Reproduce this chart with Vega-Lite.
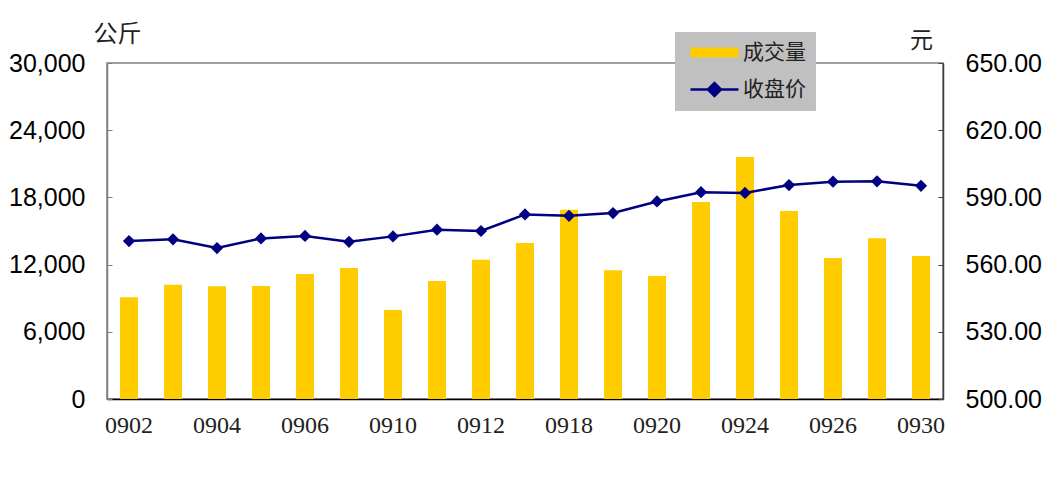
{
  "$schema": "https://vega.github.io/schema/vega-lite/v6.json",
  "width": 836,
  "height": 336,
  "autosize": {"type": "none"},
  "padding": {"left": 107, "top": 63, "right": 105, "bottom": 94},
  "background": "white",
  "config": {
    "view": {"stroke": "#808080", "strokeWidth": 1.5},
    "axis": {"grid": false, "labelFont": "Liberation Sans", "labelFontSize": 25, "labelColor": "black"}
  },
  "data": {
    "values": [
      {"date": "0902", "volume": 9080, "price": 570.5},
      {"date": "0903", "volume": 10210, "price": 571.3},
      {"date": "0904", "volume": 10060, "price": 567.4},
      {"date": "0905", "volume": 10100, "price": 571.7},
      {"date": "0906", "volume": 11160, "price": 572.8},
      {"date": "0909", "volume": 11690, "price": 570.2},
      {"date": "0910", "volume": 7950, "price": 572.6},
      {"date": "0911", "volume": 10540, "price": 575.6},
      {"date": "0912", "volume": 12440, "price": 575.0},
      {"date": "0917", "volume": 13930, "price": 582.4},
      {"date": "0918", "volume": 16900, "price": 581.8},
      {"date": "0919", "volume": 11490, "price": 583.0},
      {"date": "0920", "volume": 10980, "price": 588.2},
      {"date": "0923", "volume": 17590, "price": 592.3},
      {"date": "0924", "volume": 21610, "price": 592.0},
      {"date": "0925", "volume": 16790, "price": 595.5},
      {"date": "0926", "volume": 12590, "price": 597.0},
      {"date": "0927", "volume": 14350, "price": 597.2},
      {"date": "0930", "volume": 12770, "price": 595.2}
    ]
  },
  "encoding": {
    "x": {
      "field": "date",
      "type": "nominal",
      "scale": {"paddingInner": 0, "paddingOuter": 0},
      "axis": {
        "title": null,
        "values": ["0902", "0904", "0906", "0910", "0912", "0918", "0920", "0924", "0926", "0930"],
        "labelAngle": 0,
        "labelFont": "Liberation Serif",
        "labelFontSize": 24,
        "labelPadding": 14,
        "labelColor": "#222222",
        "ticks": false,
        "domainColor": "black",
        "domainWidth": 1.5
      }
    }
  },
  "layer": [
    {
      "mark": {"type": "bar", "size": 18},
      "encoding": {
        "y": {
          "field": "volume",
          "type": "quantitative",
          "scale": {"domain": [0, 30000], "nice": false},
          "axis": {
            "orient": "left",
            "values": [0, 6000, 12000, 18000, 24000, 30000],
            "format": ",d",
            "title": "公斤",
            "titleAngle": 0,
            "titleFont": "Noto Sans CJK SC",
            "titleFontSize": 24,
            "titleFontWeight": "normal",
            "titleColor": "#222222",
            "titleAlign": "center",
            "titleBaseline": "middle",
            "titleX": 10,
            "titleY": -29,
            "domainColor": "#808080",
            "domainWidth": 1.5,
            "tickColor": "#808080",
            "tickSize": -5,
            "labelPadding": 27
          }
        },
        "color": {
          "datum": "成交量",
          "scale": {"domain": ["成交量", "收盘价"], "range": ["#FFCC00", "#000080"]},
          "legend": {
            "title": null,
            "orient": "none",
            "legendX": 568,
            "legendY": -31,
            "fillColor": "#C0C0C0",
            "padding": 10,
            "symbolOffset": 19,
            "symbolSize": 2304,
            "labelFont": "Noto Sans CJK SC",
            "labelFontSize": 21,
            "labelColor": "#222222",
            "labelOffset": 18,
            "rowPadding": 15,
            "encode": {
              "symbols": {
                "update": {
                  "shape": {"signal": "datum.value === '成交量' ? 'M-1,-0.21H1V0.21H-1Z' : 'M-1,0H1M-0.27,0L0,-0.27L0.27,0L0,0.27Z'"},
                  "size": {"value": 2304},
                  "fill": {"signal": "datum.value === '成交量' ? '#FFCC00' : '#000080'"},
                  "stroke": {"value": "#000080"},
                  "strokeWidth": {"signal": "datum.value === '成交量' ? 0 : 2.5"},
                  "opacity": {"value": 1}
                }
              }
            }
          }
        }
      }
    },
    {
      "mark": {"type": "line", "strokeWidth": 2.5, "point": {"shape": "diamond", "size": 150, "filled": true, "color": "#000080", "opacity": 1}},
      "encoding": {
        "y": {
          "field": "price",
          "type": "quantitative",
          "scale": {"domain": [500, 650], "nice": false, "zero": false},
          "axis": {
            "orient": "right",
            "values": [500, 530, 560, 590, 620, 650],
            "format": ".2f",
            "title": "元",
            "titleAngle": 0,
            "titleFont": "Noto Sans CJK SC",
            "titleFontSize": 23,
            "titleFontWeight": "normal",
            "titleColor": "#222222",
            "titleAlign": "center",
            "titleBaseline": "middle",
            "titleX": -22,
            "titleY": -23,
            "domainColor": "#404040",
            "domainWidth": 1.5,
            "tickColor": "#404040",
            "tickSize": -5,
            "labelPadding": 27
          }
        },
        "color": {"datum": "收盘价"}
      }
    }
  ],
  "resolve": {"scale": {"y": "independent"}}
}
